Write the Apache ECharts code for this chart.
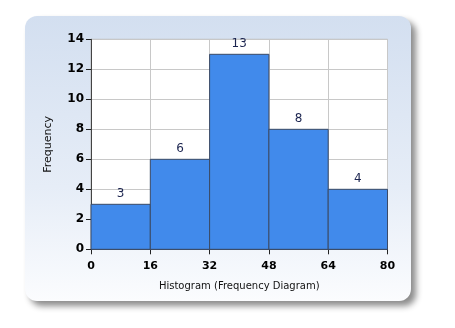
<!DOCTYPE html>
<html><head><meta charset="utf-8">
<script src="https://cdn.jsdelivr.net/npm/echarts@6/dist/echarts.min.js"></script>
<style>html,body{margin:0;padding:0;background:#fff}#c{width:455px;height:328px}</style>
</head><body><div id="c"></div>
<script>
const binStarts = [0, 16, 32, 48, 64];
const binEnds = [16, 32, 48, 64, 80];
const frequencies = [3, 6, 13, 8, 4];
const xTicks = [0, 16, 32, 48, 64, 80];
const yTicks = [0, 2, 4, 6, 8, 10, 12, 14];

const chart = echarts.init(document.getElementById('c'), null, {renderer: 'canvas'});
const data = frequencies.map((f, i) => [binStarts[i], binEnds[i], f]);
chart.setOption({
  animation: false,
  graphic: [{
    type: 'rect', z: -10,
    shape: {x: 25, y: 16, width: 386, height: 285, r: 12},
    style: {
      fill: new echarts.graphic.LinearGradient(0, 0, 0, 1, [
        {offset: 0, color: '#d3dff0'}, {offset: 0.6, color: '#e6edf7'}, {offset: 1, color: '#fbfcfe'}]),
      shadowBlur: 6, shadowOffsetX: 5, shadowOffsetY: 5, shadowColor: 'rgba(0,0,0,0.45)'
    }
  }],
  grid: {left: 91, top: 39.3, width: 296.5, height: 210, show: true, backgroundColor: '#fff', borderColor: '#bbb', borderWidth: 1},
  xAxis: {
    type: 'value', min: 0, max: 80, interval: 16,
    name: 'Histogram (Frequency Diagram)', nameLocation: 'middle', nameGap: 32,
    nameTextStyle: {fontFamily: 'DejaVu Sans', fontSize: 10, color: '#111'},
    axisLine: {show: true, lineStyle: {color: '#444', width: 1}},
    axisTick: {show: true, length: 5, lineStyle: {color: '#222'}},
    axisLabel: {fontFamily: 'DejaVu Sans', fontWeight: 'bold', fontSize: 11, color: '#000', margin: 11,
      formatter: v => xTicks.includes(v) ? String(v) : ''},
    splitLine: {show: true, lineStyle: {color: '#c8c8c8'}}
  },
  yAxis: {
    type: 'value', min: 0, max: 14, interval: 2,
    name: 'Frequency', nameLocation: 'middle', nameGap: 37, nameRotate: 90,
    nameTextStyle: {fontFamily: 'DejaVu Sans', fontSize: 11, color: '#111'},
    axisLine: {show: true, lineStyle: {color: '#444', width: 1}},
    axisTick: {show: true, length: 5, lineStyle: {color: '#222'}},
    axisLabel: {fontFamily: 'DejaVu Sans', fontWeight: 'bold', fontSize: 12, color: '#000', margin: 7,
      formatter: v => yTicks.includes(v) ? String(v) : ''},
    splitLine: {show: true, lineStyle: {color: '#c8c8c8'}}
  },
  series: [{
    type: 'custom',
    data: data,
    encode: {x: [0, 1], y: 2},
    renderItem: function (params, api) {
      const p0 = api.coord([api.value(0), api.value(2)]);
      const p1 = api.coord([api.value(1), 0]);
      return {
        type: 'group',
        children: [{
          type: 'rect',
          shape: {x: p0[0], y: p0[1], width: p1[0] - p0[0], height: p1[1] - p0[1]},
          style: {fill: '#418aeb', stroke: '#3b4a66', lineWidth: 1}
        }, {
          type: 'text',
          style: {text: String(api.value(2)), x: (p0[0] + p1[0]) / 2, y: p0[1] - 4,
            align: 'center', verticalAlign: 'bottom', fill: '#1c2550',
            font: '12px "DejaVu Sans"'}
        }]
      };
    }
  }]
});
</script></body></html>
